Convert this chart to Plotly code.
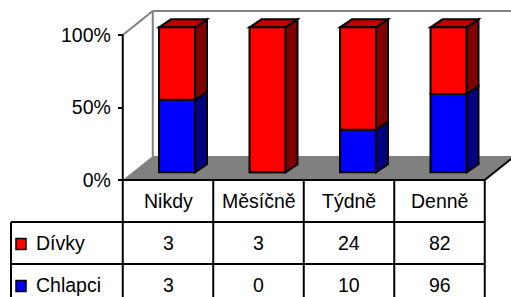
import plotly.graph_objects as go

# ---------------- data ----------------
categories = ["Nikdy", "Měsíčně", "Týdně", "Denně"]
series_names = ["Dívky", "Chlapci"]
divky = [3, 3, 24, 82]
chlapci = [3, 0, 10, 96]
tick_vals = [0, 50, 100]
tick_text = ["0%", "50%", "100%"]

# ---------------- layout constants (pixels) ----------------
W, H = 511, 297
X0PX, XUNIT = 168.0, 90.5      # pixel of category 0 centre, px per category
Y0PX, YUNIT = 180.0, 1.45      # pixel of 0 %, px per percent

def px_x(p):
    return (p - X0PX) / XUNIT

def px_y(p):
    return (Y0PX - p) / YUNIT

FLOOR_DX, FLOOR_DY = 30 / XUNIT, 24 / YUNIT      # depth of the floor
BAR_OFF_X, BAR_OFF_Y = 9 / XUNIT, 5.3            # front face of bars
BAR_DEP_X, BAR_DEP_Y = 12 / XUNIT, 8 / YUNIT     # thickness of bars
BAR_W = 36 / XUNIT

FONT = "Liberation Sans, Arial, sans-serif"
FS = 19.5

# percentages (100 % stacked)
totals = [a + b for a, b in zip(divky, chlapci)]
pct_ch = [b / t * 100 for b, t in zip(chlapci, totals)]
pct_dv = [a / t * 100 for a, t in zip(divky, totals)]

colors = {"Dívky": ("#FF0000", "#800000", "#C00000"),
          "Chlapci": ("#0000FF", "#000080", "#0000C0")}

xs = list(range(len(categories)))
fig = go.Figure()

shapes = []
GRAY = "#808080"

# floor
L, R = -0.5, len(categories) - 0.5
shapes.append(dict(type="path", layer="below",
                   path=f"M{L},0 L{L+FLOOR_DX},{FLOOR_DY} L{R+FLOOR_DX},{FLOOR_DY} L{R},0 Z",
                   fillcolor=GRAY, line=dict(width=0)))
# walls (gray outline)
shapes.append(dict(type="line", layer="below", x0=L, y0=100, x1=L + FLOOR_DX, y1=100 + FLOOR_DY,
                   line=dict(color=GRAY, width=2)))
shapes.append(dict(type="line", layer="below", x0=L + FLOOR_DX, y0=FLOOR_DY, x1=L + FLOOR_DX,
                   y1=100 + FLOOR_DY, line=dict(color=GRAY, width=2)))
shapes.append(dict(type="line", layer="below", x0=L + FLOOR_DX, y0=100 + FLOOR_DY, x1=px_x(W + 20),
                   y1=100 + FLOOR_DY, line=dict(color=GRAY, width=2)))
# floor right edge
shapes.append(dict(type="line", layer="below", x0=R, y0=0, x1=R + FLOOR_DX, y1=FLOOR_DY,
                   line=dict(color="black", width=2)))

# bars: front faces through Bar traces, sides/tops as shapes from the same values
segments = [("Chlapci", pct_ch, [0] * len(xs)), ("Dívky", pct_dv, pct_ch)]
for name, vals, bases in segments:
    front, side, top = colors[name]
    fig.add_trace(go.Bar(
        x=[i + BAR_OFF_X for i in xs], y=vals,
        base=[b + BAR_OFF_Y for b in bases], width=BAR_W, name=name,
        marker=dict(color=front, line=dict(color="black", width=2)),
        cliponaxis=False, showlegend=False, hoverinfo="skip"))
    for i, v, b in zip(xs, vals, bases):
        if v <= 0:
            continue
        xl = i + BAR_OFF_X - BAR_W / 2
        xr = i + BAR_OFF_X + BAR_W / 2
        y0 = b + BAR_OFF_Y
        y1 = b + v + BAR_OFF_Y
        shapes.append(dict(type="path", layer="below",
                           path=f"M{xr},{y0} L{xr+BAR_DEP_X},{y0+BAR_DEP_Y} L{xr+BAR_DEP_X},{y1+BAR_DEP_Y} L{xr},{y1} Z",
                           fillcolor=side, line=dict(color="black", width=2)))
        if abs(b + v - 100) < 1e-6:
            shapes.append(dict(type="path", layer="below",
                               path=f"M{xl},{y1} L{xl+BAR_DEP_X},{y1+BAR_DEP_Y} L{xr+BAR_DEP_X},{y1+BAR_DEP_Y} L{xr},{y1} Z",
                               fillcolor=top, line=dict(color="black", width=2)))

# y axis line (continues as table border)
shapes.append(dict(type="line", x0=L, y0=100, x1=L, y1=px_y(H + 5),
                   line=dict(color="black", width=2)))

# ---------------- data table ----------------
ROW_TOP = [180, 222, 264, 306]
tbl_left = px_x(11)
# horizontal lines
shapes.append(dict(type="line", x0=L, y0=px_y(ROW_TOP[0]), x1=R, y1=px_y(ROW_TOP[0]),
                   line=dict(color="black", width=2)))
for r in ROW_TOP[1:3]:
    shapes.append(dict(type="line", x0=tbl_left, y0=px_y(r), x1=R, y1=px_y(r),
                       line=dict(color="black", width=2)))
# vertical lines
for k in range(1, len(categories) + 1):
    shapes.append(dict(type="line", x0=k - 0.5, y0=px_y(ROW_TOP[0]), x1=k - 0.5, y1=px_y(H + 5),
                       line=dict(color="black", width=2)))
shapes.append(dict(type="line", x0=tbl_left, y0=px_y(ROW_TOP[1]), x1=tbl_left, y1=px_y(H + 5),
                   line=dict(color="black", width=2)))

annotations = []
def row_mid(r):
    return px_y((ROW_TOP[r] + ROW_TOP[r + 1]) / 2)

for i, c in enumerate(categories):
    annotations.append(dict(x=i, y=row_mid(0), text=c, showarrow=False,
                            xanchor="center", yanchor="middle"))
for r, (name, vals) in enumerate([("Dívky", divky), ("Chlapci", chlapci)], start=1):
    for i, v in enumerate(vals):
        annotations.append(dict(x=i, y=row_mid(r), text=str(v), showarrow=False,
                                xanchor="center", yanchor="middle"))
    annotations.append(dict(x=px_x(34), y=row_mid(r), text=name, showarrow=False,
                            xanchor="left", yanchor="middle"))
    ym = (ROW_TOP[r] + ROW_TOP[r + 1]) / 2 + 1
    shapes.append(dict(type="rect", x0=px_x(16), x1=px_x(26), y0=px_y(ym - 5.5), y1=px_y(ym + 5.5),
                       fillcolor=colors[name][0], line=dict(color="black", width=1.5)))

fig.update_layout(
    width=W, height=H,
    margin=dict(l=0, r=0, t=0, b=0, pad=0),
    paper_bgcolor="white", plot_bgcolor="white",
    barmode="overlay",
    font=dict(family=FONT, size=FS, color="black"),
    shapes=shapes, annotations=annotations,
    xaxis=dict(range=[px_x(0), px_x(W)], visible=False, fixedrange=True, automargin=False),
    yaxis=dict(range=[px_y(H), px_y(0)], anchor="free", position=(X0PX - 0.5 * XUNIT) / W,
               tickvals=tick_vals, ticktext=tick_text, ticks="outside", ticklen=5,
               tickwidth=2, tickcolor="black", showline=False, showgrid=False,
               zeroline=False, ticklabelstandoff=3, fixedrange=True, automargin=False),
    showlegend=False,
)

fig.write_html("out.html", config={"displayModeBar": False},
               post_script="document.body.style.margin='0';document.body.style.padding='0';")
